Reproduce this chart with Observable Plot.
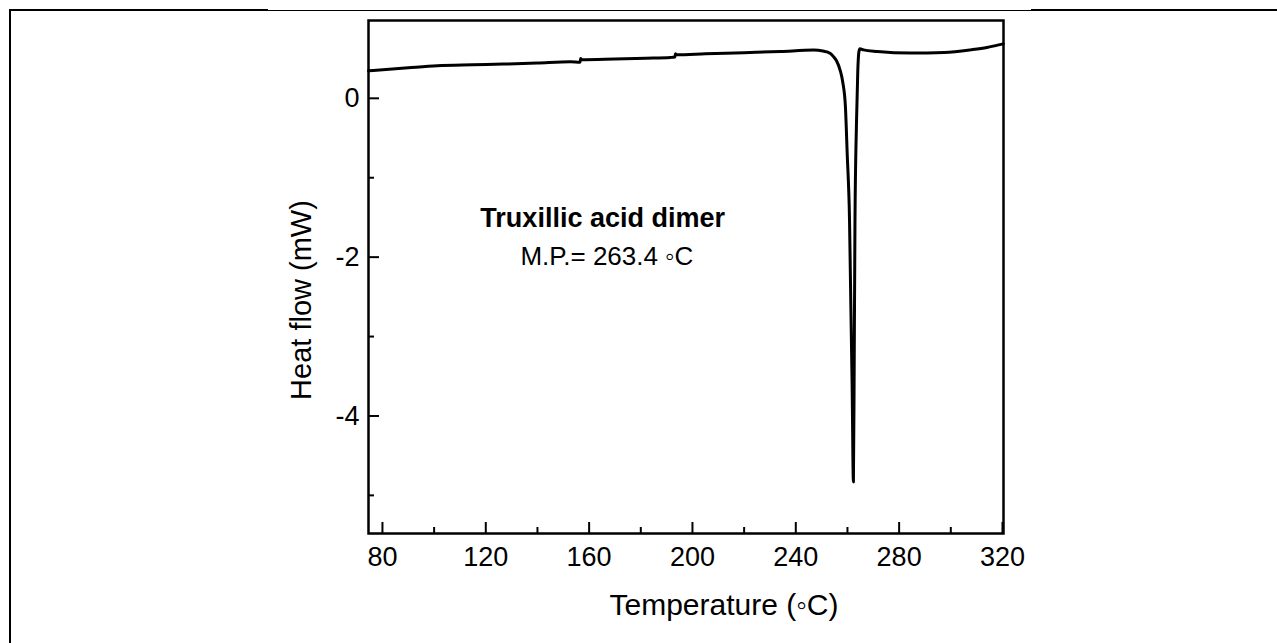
<!DOCTYPE html>
<html>
<head>
<meta charset="utf-8">
<script src="https://cdn.jsdelivr.net/npm/d3@7"></script>
<script src="https://cdn.jsdelivr.net/npm/@observablehq/plot@0.6"></script>
<style>
  html, body { margin: 0; padding: 0; background: #fff; }
  #wrap { position: relative; width: 1277px; height: 643px; overflow: hidden; }
  #wrap svg { display: block; }
  .bl { position: absolute; background: #000; }
</style>
</head>
<body>
<div id="wrap">
  <div class="bl" style="left:9px;top:9px;width:259px;height:2px"></div>
  <div class="bl" style="left:268px;top:9.5px;width:763px;height:1px"></div>
  <div class="bl" style="left:1031px;top:9px;width:246px;height:2px"></div>
  <div class="bl" style="left:9px;top:9px;width:2px;height:634px"></div>
</div>
<script>
// Data
const temperature = [74.6, 90, 101.2, 115, 126.8, 140, 152.8, 156.5, 156.7, 157.0, 170, 182, 191.5, 193.2, 193.4, 193.8,
  205, 220, 234.1, 246.9, 250.5, 253.4, 254.7, 255.8, 257.2, 258.2, 259.2, 259.9, 260.8, 261.3, 261.8, 262.3,
  262.6, 262.9, 263.5, 264.0, 264.4, 264.8, 266.2, 271.6, 284.4, 297.5, 307.6, 314, 318.1, 320.3];
const heatFlow = [0.347, 0.385, 0.41, 0.422, 0.431, 0.445, 0.46, 0.455, 0.50, 0.486, 0.495, 0.505, 0.515, 0.52, 0.56, 0.548,
  0.56, 0.575, 0.59, 0.607, 0.595, 0.565, 0.52, 0.47, 0.35, 0.2, -0.1, -0.7, -1.54, -2.6, -3.6, -4.83,
  -3.4, -1.6, -0.3, 0.35, 0.58, 0.625, 0.61, 0.59, 0.57, 0.578, 0.61, 0.64, 0.67, 0.685];

const xMajorTicks = [80, 120, 160, 200, 240, 280, 320];
const xMinorTicks = [100, 140, 180, 220, 260, 300];
const yMajorTicks = [0, -2, -4];
const yMinorTicks = [-1, -3, -5];

const xTitle = "Temperature (\u25E6C)";
const yTitle = "Heat flow (mW)";
const sampleName = "Truxillic acid dimer";
const meltingPoint = "M.P.= 263.4 \u25E6C";

const curve = temperature.map((t, i) => ({t, v: heatFlow[i]}));

const W = 1277, H = 643;
const mL = 368, mR = 274, mT = 20, mB = 110;
const plotW = W - mL - mR;
const plotH = H - mT - mB;
const font = "'Liberation Sans', Arial, Helvetica, sans-serif";

const chart = Plot.plot({
  width: W,
  height: H,
  marginLeft: mL,
  marginRight: mR,
  marginTop: mT,
  marginBottom: mB,
  style: {fontFamily: font, color: "#000", background: "transparent", overflow: "visible"},
  x: {domain: [74.6, 320.4]},
  y: {domain: [-5.48, 0.98]},
  marks: [
    Plot.tickX(xMajorTicks, {x: d => d, insetTop: plotH - 11, stroke: "#000", strokeWidth: 2}),
    Plot.tickX(xMinorTicks, {x: d => d, insetTop: plotH - 6, stroke: "#000", strokeWidth: 2}),
    Plot.tickY(yMajorTicks, {y: d => d, insetRight: plotW - 11, stroke: "#000", strokeWidth: 2}),
    Plot.tickY(yMinorTicks, {y: d => d, insetRight: plotW - 6, stroke: "#000", strokeWidth: 2}),
    Plot.axisX(xMajorTicks, {tickSize: 0, tickPadding: 13, fontSize: 27, label: null, fill: "#000"}),
    Plot.axisY(yMajorTicks, {tickSize: 0, tickPadding: 9, fontSize: 27, label: null, fill: "#000", tickFormat: d => String(d)}),
    Plot.frame({stroke: "#000", strokeWidth: 2.5}),
    Plot.line(curve, {x: "t", y: "v", curve: "monotone-x", stroke: "#000", strokeWidth: 3}),
    Plot.text([xTitle], {text: d => d, frameAnchor: "bottom", textAnchor: "middle", lineAnchor: "middle", dx: 38, dy: 72, fontSize: 30, fill: "#000"}),
    Plot.text([yTitle], {text: d => d, frameAnchor: "left", textAnchor: "middle", lineAnchor: "middle", dx: -67, dy: 23, rotate: -90, fontSize: 29, fill: "#000"}),
    Plot.text([sampleName], {text: d => d, x: 117.9, y: -1.507, textAnchor: "start", fontSize: 27, fontWeight: "bold", fill: "#000"}),
    Plot.text([meltingPoint], {text: d => d, x: 133.4, y: -1.99, textAnchor: "start", fontSize: 26, fill: "#000"})
  ]
});
document.getElementById("wrap").appendChild(chart);
</script>
</body>
</html>
